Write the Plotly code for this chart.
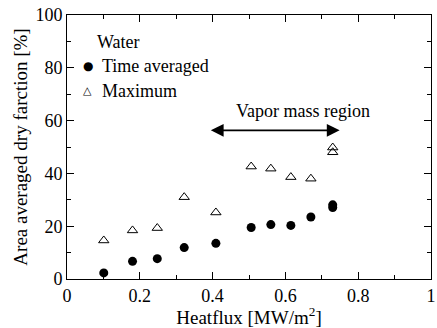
import plotly.graph_objects as go

heatflux_avg = [0.101, 0.180, 0.248, 0.322, 0.409, 0.506, 0.560, 0.615, 0.670, 0.730, 0.730]
dry_avg = [2.3, 6.7, 7.7, 11.9, 13.5, 19.5, 20.6, 20.3, 23.5, 28.1, 27.1]
heatflux_max = [0.101, 0.180, 0.248, 0.322, 0.409, 0.506, 0.560, 0.615, 0.670, 0.730, 0.730]
dry_max = [14.6, 18.4, 19.3, 31.0, 25.2, 42.6, 41.8, 38.6, 38.0, 49.8, 48.0]

FONT = "Liberation Serif"
SYM = "DejaVu Sans"

fig = go.Figure()
fig.add_trace(go.Scatter(x=heatflux_avg, y=dry_avg, mode="markers", name="Time averaged",
                         marker=dict(symbol="circle", size=9, color="black")))
fig.add_trace(go.Scatter(x=heatflux_max, y=dry_max, mode="markers", name="Maximum",
                         marker=dict(symbol="triangle-up-open", size=9, color="black",
                                     line=dict(width=1, color="black"))))

# arrow and its label
fig.add_annotation(x=0.749, y=56.3, ax=0.391, ay=56.3, xref="x", yref="y", axref="x", ayref="y",
                   showarrow=True, arrowhead=2, arrowside="end+start", arrowsize=1.6,
                   arrowwidth=1.6, arrowcolor="black", text="")
fig.add_annotation(x=0.648, y=63.5, xref="x", yref="y", text="Vapor mass region",
                   showarrow=False, font=dict(family=FONT, size=18, color="black"))

# legend built from annotations
leg_font = dict(family=FONT, size=18, color="black")
fig.add_annotation(x=0.0759, y=0.899, xref="paper", yref="paper", text="Water",
                   xanchor="left", yanchor="middle", showarrow=False, font=leg_font)
fig.add_annotation(x=0.0569, y=0.807, xref="paper", yref="paper", text="\u25CF",
                   xanchor="center", yanchor="middle", showarrow=False,
                   font=dict(family=SYM, size=12, color="black"))
fig.add_annotation(x=0.0894, y=0.807, xref="paper", yref="paper", text="Time averaged",
                   xanchor="left", yanchor="middle", showarrow=False, font=leg_font)
fig.add_annotation(x=0.0569, y=0.713, xref="paper", yref="paper", text="\u25B3",
                   xanchor="center", yanchor="middle", showarrow=False,
                   font=dict(family=SYM, size=11, color="black"))
fig.add_annotation(x=0.0894, y=0.713, xref="paper", yref="paper", text="Maximum",
                   xanchor="left", yanchor="middle", showarrow=False, font=leg_font)

axis_common = dict(showline=True, linecolor="black", linewidth=1, mirror="ticks",
                   ticks="inside", ticklen=7, tickwidth=1, tickcolor="black",
                   showgrid=False, zeroline=False, ticklabeloverflow="allow",
                   tickfont=dict(family=FONT, size=18, color="black"))

fig.update_xaxes(range=[0, 1],
                 tickvals=[0, 0.2, 0.4, 0.6, 0.8, 1.0], ticktext=["0", "0.2", "0.4", "0.6", "0.8", "1"],
                 minor=dict(ticks="inside", ticklen=4, dtick=0.1, tickcolor="black", showgrid=False),
                 title=dict(text="Heatflux [MW/m<sup>2</sup>]", font=dict(family=FONT, size=19, color="black"),
                            standoff=2),
                 **axis_common)
fig.update_yaxes(range=[0, 100], tick0=0, dtick=20,
                 minor=dict(ticks="inside", ticklen=4, dtick=10, tickcolor="black", showgrid=False),
                 title=dict(text="Area averaged dry farction [%]", font=dict(family=FONT, size=19, color="black"),
                            standoff=2),
                 **axis_common)

fig.update_layout(
    width=437, height=328,
    margin=dict(l=67, r=1, t=15, b=49),
    plot_bgcolor="white", paper_bgcolor="white",
    showlegend=False,
    font=dict(family=FONT),
)

fig.write_html("out.html")
